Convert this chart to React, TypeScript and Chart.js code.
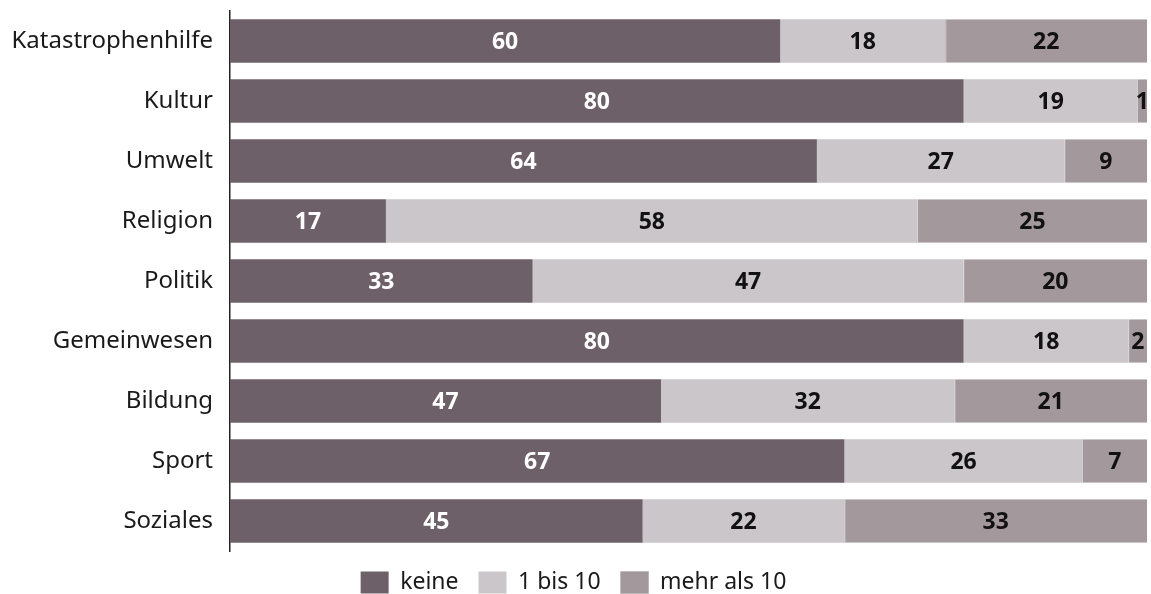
import React, { useEffect, useRef } from "react";
import { Chart, registerables } from "chart.js";

Chart.register(...registerables);

const categories = [
  "Katastrophenhilfe",
  "Kultur",
  "Umwelt",
  "Religion",
  "Politik",
  "Gemeinwesen",
  "Bildung",
  "Sport",
  "Soziales",
];
const keine = [60, 80, 64, 17, 33, 80, 47, 67, 45];
const einsBisZehn = [18, 19, 27, 58, 47, 18, 32, 26, 22];
const mehrAlsZehn = [22, 1, 9, 25, 20, 2, 21, 7, 33];
const seriesNames = ["keine", "1 bis 10", "mehr als 10"];
const seriesColors = ["#6e6068", "#cbc6c9", "#a3989c"];
const labelColors = ["#ffffff", "#111111", "#111111"];

const FONT = "'Noto Sans', sans-serif";

const segmentLabels = {
  id: "segmentLabels",
  afterDatasetsDraw(chart: any) {
    const ctx = chart.ctx;
    ctx.save();
    ctx.font = `bold 23px ${FONT}`;
    ctx.textAlign = "center";
    ctx.textBaseline = "middle";
    chart.data.datasets.forEach((ds: any, di: number) => {
      const meta = chart.getDatasetMeta(di);
      meta.data.forEach((el: any, i: number) => {
        const p = el.getProps(["x", "y", "base"], true);
        ctx.fillStyle = labelColors[di];
        ctx.fillText(String(ds.data[i]), (p.x + p.base) / 2, p.y + 1);
      });
    });
    ctx.restore();
  },
};

export default function App() {
  const ref = useRef<HTMLCanvasElement | null>(null);

  useEffect(() => {
    document.body.style.margin = "0";
    const canvas = ref.current;
    if (!canvas) return;
    const series = [keine, einsBisZehn, mehrAlsZehn];
    const chart = new Chart(canvas, {
      type: "bar",
      data: {
        labels: categories,
        datasets: series.map((d, i) => ({
          label: seriesNames[i],
          data: d,
          backgroundColor: seriesColors[i],
          borderColor: i === 2 ? "#8a7f84" : seriesColors[i],
          borderWidth: i === 2 ? { left: 1, right: 0, top: 0, bottom: 0 } : 0,
          borderSkipped: false,
          barPercentage: 0.728,
          categoryPercentage: 1,
        })),
      },
      options: {
        indexAxis: "y",
        responsive: false,
        animation: false,
        layout: { padding: { top: 11, right: 4, left: 0, bottom: 0 } },
        scales: {
          x: {
            stacked: true,
            min: 0,
            max: 100,
            display: false,
          },
          y: {
            stacked: true,
            grid: { display: false, drawTicks: false },
            border: { display: true, color: "#222222", width: 1.5 },
            ticks: {
              color: "#1a1a1a",
              font: { family: FONT, size: 24 },
              padding: 17,
            },
            afterFit: (scale: any) => {
              scale.width = 230;
              scale.paddingTop = 0;
              scale.paddingBottom = 0;
            },
          },
        },
        plugins: {
          legend: {
            position: "bottom",
            maxHeight: 43,
            labels: {
              boxWidth: 28,
              boxHeight: 22,
              padding: 20,
              color: "#1a1a1a",
              font: { family: FONT, size: 23 },
            },
          },
          tooltip: { enabled: false },
        },
      },
      plugins: [segmentLabels],
    } as any);
    return () => chart.destroy();
  }, []);

  return <canvas ref={ref} width={1151} height={594} />;
}
